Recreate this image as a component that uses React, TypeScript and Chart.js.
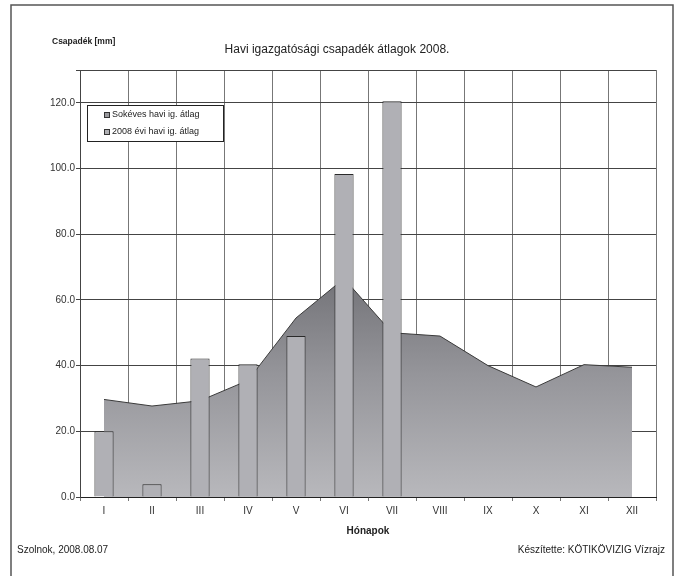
import React, { useEffect, useRef } from "react";
import { Chart, registerables } from "chart.js";

Chart.register(...registerables);

const months = ["I", "II", "III", "IV", "V", "VI", "VII", "VIII", "IX", "X", "XI", "XII"];
const longTermAvg = [29.7, 27.7, 29.3, 35.5, 54.5, 66.5, 50.0, 49.0, 40.0, 33.5, 40.3, 39.5];
const avg2008 = [20.0, 3.9, 42.2, 40.4, 49.0, 98.3, 120.5];
const legendLabels = ["Sokéves havi ig. átlag", "2008 évi havi ig. átlag"];
const titleText = "Havi igazgatósági csapadék átlagok 2008.";
const yTitle = "Csapadék [mm]";
const xTitle = "Hónapok";
const footLeft = "Szolnok, 2008.08.07";
const footRight = "Készítette: KÖTIKÖVIZIG Vízrajz";

const FONT = "'Liberation Sans', Arial, sans-serif";

const decorPlugin = {
  id: "decor",
  afterDraw(chart: any) {
    const c = chart.ctx;
    const area = chart.chartArea;
    c.save();
    // frame
    c.strokeStyle = "#555";
    c.lineWidth = 1.5;
    c.beginPath();
    c.moveTo(11, 576);
    c.lineTo(11, 5);
    c.lineTo(673, 5);
    c.lineTo(673, 576);
    c.stroke();
    c.fillStyle = "#222";
    c.textBaseline = "middle";
    // y title
    c.font = `bold 8.5px ${FONT}`;
    c.textAlign = "left";
    c.fillText(yTitle, 52, 42);
    // title
    c.font = `12px ${FONT}`;
    c.textAlign = "center";
    c.fillText(titleText, 337, 50);
    // x title
    c.font = `bold 10px ${FONT}`;
    c.fillText(xTitle, (area.left + area.right) / 2, 531);
    // footers
    c.font = `10px ${FONT}`;
    c.textAlign = "left";
    c.fillText(footLeft, 17, 550);
    c.textAlign = "right";
    c.fillText(footRight, 665, 550);
    // legend
    c.fillStyle = "#fff";
    c.fillRect(87, 105, 136, 36);
    c.strokeStyle = "#222";
    c.lineWidth = 1;
    c.strokeRect(87.5, 105.5, 136, 36);
    c.font = `9px ${FONT}`;
    c.textAlign = "left";
    const ys = [115, 132];
    legendLabels.forEach((t, i) => {
      c.fillStyle = i === 0 ? "#9a9a9e" : "#b0b0b4";
      c.fillRect(104, ys[i] - 2.5, 5, 5);
      c.strokeStyle = "#333";
      c.strokeRect(104.5, ys[i] - 2.5, 5, 5);
      c.fillStyle = "#222";
      c.fillText(t, 112, ys[i]);
    });
    c.restore();
  },
};

export default function App() {
  const ref = useRef<HTMLCanvasElement>(null);
  useEffect(() => {
    if (!ref.current) return;
    const chart = new Chart(ref.current, {
      type: "bar",
      data: {
        labels: months,
        datasets: [
          {
            type: "bar",
            label: legendLabels[1],
            data: avg2008,
            backgroundColor: "#b0b0b5",
            borderColor: "#2a2a2a",
            borderWidth: 1,
            categoryPercentage: 0.4,
            barPercentage: 1,
            order: 0,
          } as any,
          {
            type: "line",
            label: legendLabels[0],
            data: longTermAvg,
            borderColor: "#3a3a3a",
            borderWidth: 1,
            pointRadius: 0,
            tension: 0,
            fill: "origin",
            backgroundColor: (ctx: any) => {
              const ch = ctx.chart;
              const a = ch.chartArea;
              if (!a) return "#999";
              const g = ch.ctx.createLinearGradient(0, ch.scales.y.getPixelForValue(68), 0, a.bottom);
              g.addColorStop(0, "#727277");
              g.addColorStop(0.45, "#95959a");
              g.addColorStop(1, "#b8b8bc");
              return g;
            },
            order: 1,
          } as any,
        ],
      },
      options: {
        responsive: false,
        animation: false,
        layout: { padding: { left: 0, right: 21, top: 70, bottom: 0 } },
        plugins: {
          legend: { display: false },
          title: { display: false },
          tooltip: { enabled: false },
        },
        scales: {
          x: {
            offset: true,
            grid: { offset: true, color: "#777", lineWidth: 1, tickLength: 4, drawTicks: true },
            border: { color: "#222", width: 1 },
            ticks: { color: "#333", font: { family: FONT, size: 10 }, padding: 4, maxRotation: 0 },
            afterFit: (s: any) => {
              s.height = 79;
            },
          },
          y: {
            min: 0,
            max: 130,
            grid: { color: "#444", lineWidth: 1, tickLength: 4 },
            border: { color: "#444", width: 1 },
            ticks: {
              stepSize: 20,
              color: "#333",
              font: { family: FONT, size: 10 },
              padding: 1,
              callback: (v: any) => (Number(v) % 20 === 0 ? Number(v).toFixed(1) : ""),
            },
            afterFit: (s: any) => {
              s.width = 80;
            },
          },
        },
      },
      plugins: [decorPlugin],
    });
    return () => chart.destroy();
  }, []);
  return (
    <div style={{ position: "absolute", left: 0, top: 0, width: 677, height: 576, background: "#fff" }}>
      <canvas ref={ref} width={677} height={576} style={{ display: "block" }} />
    </div>
  );
}
